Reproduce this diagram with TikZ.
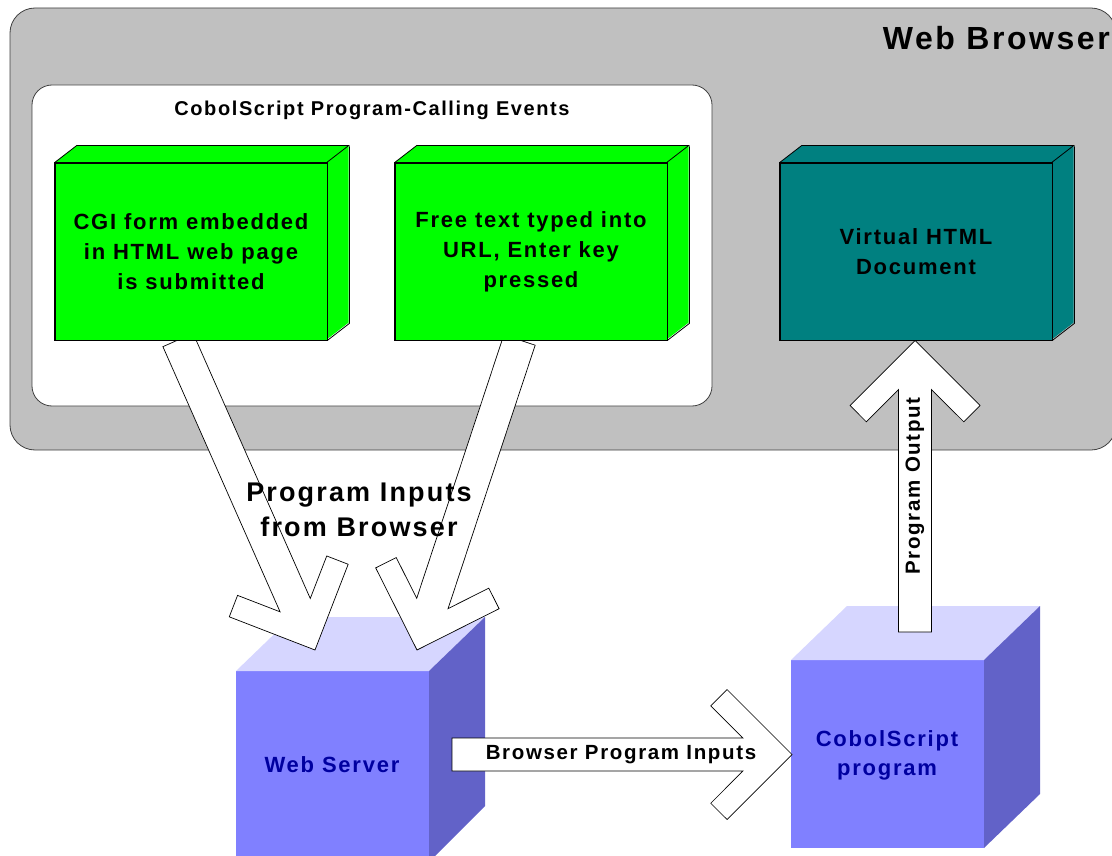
\documentclass[tikz,border=0pt]{standalone}
\usepackage{fontspec}
\setmainfont{Liberation Sans}[LetterSpace=8]
\usetikzlibrary{calc}
\definecolor{graybg}{RGB}{192,192,192}
\definecolor{grn}{RGB}{0,255,0}
\definecolor{tealbox}{RGB}{0,128,128}
\definecolor{cubefront}{RGB}{128,128,255}
\definecolor{cubetop}{RGB}{214,214,255}
\definecolor{cubeside}{RGB}{98,98,200}
\definecolor{cubetext}{RGB}{0,0,160}
\tikzset{
  panel/.style={draw=black!75, line width=0.8pt},
  boxface/.style={draw=black, line width=0.8pt},
  frontbox/.style={boxface, minimum width=272pt, minimum height=177pt, inner sep=0pt, align=center,
     font=\bfseries\fontsize{22}{30}\selectfont},
  arrowbody/.style={draw=black, fill=white, line width=0.7pt, line join=miter},
  lbl/.style={font=\bfseries\fontsize{20.5}{30}\selectfont, inner sep=0pt, align=center},
  cubelbl/.style={font=\bfseries\fontsize{22}{29}\selectfont, text=cubetext, inner sep=0pt, align=center}
}
% chevron block arrow: #2 tail coordinate, #3 tip coordinate
\newcommand\chevarrow[3][]{%
 \draw[arrowbody,#1] (#3)
  -- ($(#3)!91.92pt!45:(#2)$)
  -- ($(#3)!94.76pt!30.96:(#2)$)
  -- ($(#3)!51.73pt!18.60:(#2)$)
  -- ($(#2)!16.5pt!-90:(#3)$)
  -- ($(#2)!16.5pt!90:(#3)$)
  -- ($(#3)!51.73pt!-18.60:(#2)$)
  -- ($(#3)!94.76pt!-30.96:(#2)$)
  -- ($(#3)!91.92pt!-45:(#2)$)
  -- cycle;}
\begin{document}
\begin{tikzpicture}[x=1pt,y=-1pt]
\useasboundingbox (0,0) rectangle (1112,856);
% Web browser panel
\draw[panel, fill=graybg, rounded corners=25pt] (10,8) rectangle (1116,450);
\node[anchor=base east, inner sep=0pt, font=\bfseries\fontsize{32}{36}\selectfont] (wb) at (1110,50) {Web Browser};
% events panel
\draw[panel, fill=white, rounded corners=20pt] (32,85) rectangle (712,406);
\node[lbl, font=\bfseries\fontsize{20}{24}\selectfont, anchor=base] (ev) at (372,116) {CobolScript Program-Calling Events};

% Web Server cube
\fill[cubefront] (236,671) rectangle (429,862);
\fill[cubetop] (236,671) -- (292,617) -- (485,617) -- (429,671) -- cycle;
\fill[cubeside] (429,671) -- (485,617) -- (485,806) -- (429,862) -- cycle;
\node[cubelbl] (ws) at (332,765) {Web Server};
% CobolScript cube
\fill[cubefront] (791,660) rectangle (984,848);
\fill[cubetop] (791,660) -- (847,606) -- (1040,606) -- (984,660) -- cycle;
\fill[cubeside] (984,660) -- (1040,606) -- (1040,794) -- (984,848) -- cycle;
\node[cubelbl] (cs) at (887,755) {CobolScript\\program};

% arrow end points
\coordinate (a1s) at (178,340);   \coordinate (a1t) at (315,650);
\coordinate (a2s) at (519.5,340); \coordinate (a2t) at (417,650);
\coordinate (a3s) at (452,754.5); \coordinate (a3t) at (792,754.5);
\coordinate (a4s) at (915,632);   \coordinate (a4t) at (915,340.5);
\chevarrow{a1s}{a1t}
\chevarrow{a2s}{a2t}
\chevarrow{a3s}{a3t}
\chevarrow{a4s}{a4t}

% green event boxes
\node[frontbox, fill=grn] (g1) at (191,251.5) {CGI form embedded\\in HTML web page\\is submitted};
\fill[grn] (g1.north west) -- ++(22,-17) -- ++(272,0) -- ++(0,177) -- ++(-22,17) -- (g1.north east) -- cycle;
\draw[boxface] (g1.north west) -- ++(22,-17) -- ++(272,0) -- ++(-22,17);
\draw[boxface] (g1.south east) -- ++(22,-17) -- ++(0,-177);
\node[frontbox, fill=grn] (g2) at (531,251.5) {Free text typed into\\URL, Enter key\\pressed};
\fill[grn] (g2.north west) -- ++(22,-17) -- ++(272,0) -- ++(0,177) -- ++(-22,17) -- (g2.north east) -- cycle;
\draw[boxface] (g2.north west) -- ++(22,-17) -- ++(272,0) -- ++(-22,17);
\draw[boxface] (g2.south east) -- ++(22,-17) -- ++(0,-177);
% virtual document
\node[frontbox, fill=tealbox] (vd) at (916,251.5) {Virtual HTML\\Document};
\fill[tealbox] (vd.north west) -- ++(22,-17) -- ++(272,0) -- ++(0,177) -- ++(-22,17) -- (vd.north east) -- cycle;
\draw[boxface] (vd.north west) -- ++(22,-17) -- ++(272,0) -- ++(-22,17);
\draw[boxface] (vd.south east) -- ++(22,-17) -- ++(0,-177);
\draw[boxface] (vd.north west) rectangle (vd.south east);
\draw[boxface] (g1.north west) rectangle (g1.south east);
\draw[boxface] (g2.north west) rectangle (g2.south east);

% labels on arrows
\node[lbl, font=\bfseries\fontsize{27}{35}\selectfont] (pib) at (359,510) {Program Inputs\\from Browser};
\node[lbl] (bpi) at (621,754.5) {Browser Program Inputs};
\node[lbl, rotate=90] (po) at (915,486) {Program Output};
\end{tikzpicture}
\end{document}
